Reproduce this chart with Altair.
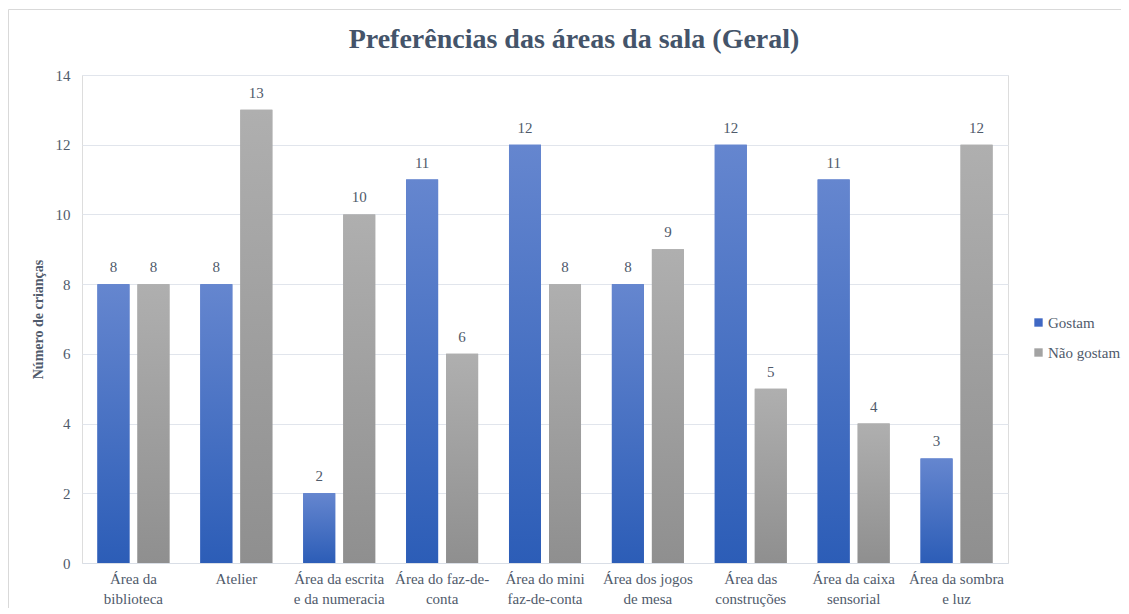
import altair as alt
import pandas as pd

categories = [
    "Área da|biblioteca",
    "Atelier",
    "Área da escrita|e da numeracia",
    "Área do faz-de-|conta",
    "Área do mini|faz-de-conta",
    "Área dos jogos|de mesa",
    "Área das|construções",
    "Área da caixa|sensorial",
    "Área da sombra|e luz",
]
gostam = [8, 8, 2, 11, 12, 8, 12, 11, 3]
nao_gostam = [8, 13, 10, 6, 8, 9, 5, 4, 12]
series = ["Gostam", "Não gostam"]
y_ticks = [0, 2, 4, 6, 8, 10, 12, 14]

rows = []
for c, g, n in zip(categories, gostam, nao_gostam):
    rows.append({"area": c, "serie": series[0], "valor": g})
    rows.append({"area": c, "serie": series[1], "valor": n})
df = pd.DataFrame(rows)

FONT = "Liberation Serif, Times New Roman, serif"
TXT = "#4f5a6b"

grad_blue = {
    "gradient": "linear", "x1": 0, "y1": 0, "x2": 0, "y2": 1,
    "stops": [{"offset": 0, "color": "#6586CF"}, {"offset": 1, "color": "#2C5DB7"}],
}
grad_gray = {
    "gradient": "linear", "x1": 0, "y1": 0, "x2": 0, "y2": 1,
    "stops": [{"offset": 0, "color": "#AFAFAF"}, {"offset": 1, "color": "#8F8F8F"}],
}

x_enc = alt.X(
    "area:N",
    sort=categories,
    scale=alt.Scale(paddingInner=0.3, paddingOuter=0.15),
    axis=alt.Axis(
        title=None,
        labelAngle=0,
        labelExpr="split(datum.label, '|')",
        labelFont=FONT,
        labelFontSize=15,
        labelColor=TXT,
        labelLineHeight=20,
        labelPadding=8,
        ticks=False,
        domainColor="#D9DEE6",
        labelLimit=200,
    ),
)
xoff = alt.XOffset("serie:N", sort=series, scale=alt.Scale(paddingInner=0.2, paddingOuter=0))
y_enc = alt.Y(
    "valor:Q",
    scale=alt.Scale(domain=[0, 14], nice=False),
    axis=alt.Axis(
        title="Número de crianças",
        titleFont=FONT,
        titleFontSize=14,
        titleFontWeight="bold",
        titleColor=TXT,
        titlePadding=10,
        values=y_ticks,
        labelFont=FONT,
        labelFontSize=15,
        labelColor=TXT,
        labelPadding=12,
        ticks=False,
        domain=False,
        gridColor="#E1E5EC",
        gridWidth=1,
    ),
)

base = alt.Chart(df)

# solid bars (give the legend), covered by gradient bars of the same geometry
bars_solid = base.mark_bar().encode(
    x=x_enc,
    xOffset=xoff,
    y=y_enc,
    color=alt.Color(
        "serie:N",
        sort=series,
        scale=alt.Scale(domain=series, range=["#4068C4", "#A3A3A3"]),
        legend=alt.Legend(
            title=None,
            orient="none",
            legendX=949,
            legendY=240,
            symbolType="square",
            symbolSize=70,
            symbolStrokeWidth=0,
            symbolOpacity=1,
            labelFont=FONT,
            labelFontSize=15,
            labelColor=TXT,
            rowPadding=14,
            labelOffset=2,
        ),
    ),
)

bars_grad = base.mark_bar().encode(
    x=alt.X("area:N", sort=categories),
    xOffset=alt.XOffset("serie:N", sort=series),
    y="valor:Q",
    fill=alt.condition(alt.datum.serie == "Gostam", alt.value(grad_blue), alt.value(grad_gray)),
)

labels = base.mark_text(
    baseline="bottom", dy=-9, font=FONT, fontSize=15, color=TXT
).encode(
    x=alt.X("area:N", sort=categories),
    xOffset=alt.XOffset("serie:N", sort=series),
    y="valor:Q",
    text="valor:Q",
)

border = alt.Chart(pd.DataFrame({"a": [0]})).mark_rect(
    fill=None, stroke="#D9D9D9", strokeWidth=1
).encode(
    x=alt.value(-73.5), x2=alt.value(1100), y=alt.value(-65.5), y2=alt.value(620)
)

chart = (
    alt.layer(border, bars_solid, bars_grad, labels)
    .properties(
        width=926,
        height=488,
        padding={"left": 74, "top": 67, "right": 113, "bottom": 45},
        autosize=alt.AutoSizeParams(type="none"),
        title=alt.TitleParams(
            "Preferências das áreas da sala (Geral)",
            font=FONT,
            fontSize=28,
            fontWeight="bold",
            color="#44546A",
            anchor="middle",
            dx=29,
            offset=-45,
        ),
    )
    .configure_view(stroke=None)
    .configure(background="white")
)

chart.save("out.html", embed_options={"renderer": "svg", "actions": False})
